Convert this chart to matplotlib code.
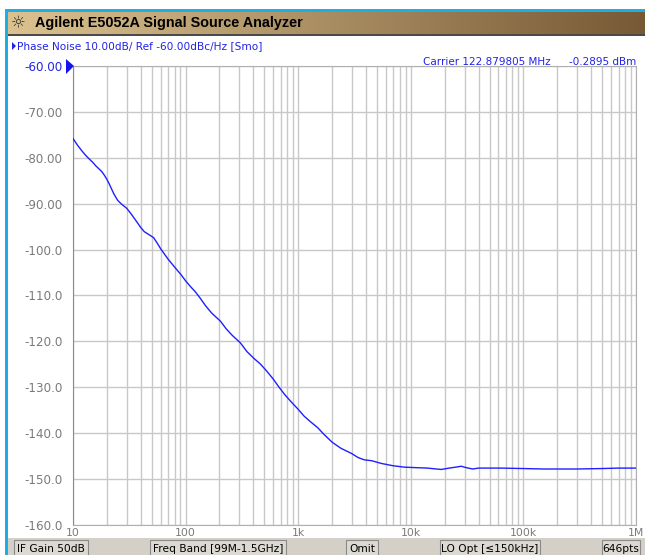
import numpy as np
import matplotlib
matplotlib.use('Agg')
import matplotlib.pyplot as plt
from matplotlib.patches import Rectangle, Polygon

# phase noise trace (offset frequency in Hz, dBc/Hz)
freq_hz = [10, 11, 12, 13, 14, 15, 16, 17, 18, 19, 20, 21, 22, 23, 24, 25, 27,
           30, 33, 36, 40, 43, 47, 52, 56, 60, 65, 70, 78, 85, 90, 100, 110,
           122, 135, 150, 170, 190, 204, 230, 260, 306, 350, 404, 460, 514,
           600, 677, 760, 861, 1000, 1130, 1300, 1490, 1700, 2010, 2400, 2970,
           3400, 3860, 4500, 5500, 7000, 8800, 11000, 14000, 18600, 22000,
           25000, 28000, 31000, 35500, 40000, 63000, 100000, 150000, 200000,
           300000, 500000, 700000, 1000000]
noise_dbc = [-75.8, -77.3, -78.5, -79.5, -80.3, -81.0, -81.8, -82.4, -83.0,
             -83.8, -84.7, -85.7, -86.8, -87.8, -88.6, -89.3, -90.1, -91.0,
             -92.3, -93.6, -95.2, -96.1, -96.7, -97.4, -98.6, -99.8, -101.0,
             -102.1, -103.5, -104.6, -105.3, -106.8, -108.0, -109.2, -110.6,
             -112.2, -113.8, -114.9, -115.6, -117.3, -118.7, -120.3, -122.2,
             -123.7, -124.9, -126.2, -128.2, -130.0, -131.6, -133.1, -134.8,
             -136.3, -137.6, -138.8, -140.3, -142.0, -143.3, -144.4, -145.3,
             -145.8, -146.0, -146.6, -147.1, -147.4, -147.5, -147.6, -147.9,
             -147.6, -147.4, -147.2, -147.5, -147.8, -147.6, -147.6, -147.7,
             -147.8, -147.8, -147.8, -147.7, -147.6, -147.6]

y_ticks = [-60, -70, -80, -90, -100, -110, -120, -130, -140, -150, -160]
y_labels = ['-60.00', '-70.00', '-80.00', '-90.00', '-100.0', '-110.0',
            '-120.0', '-130.0', '-140.0', '-150.0', '-160.0']
x_ticks = [10, 100, 1000, 10000, 100000, 1000000]
x_labels = ['10', '100', '1k', '10k', '100k', '1M']

buttons = [('IF Gain 50dB', 14, 88), ('Freq Band [99M-1.5GHz]', 150, 286),
           ('Omit', 346, 378), ('LO Opt [\u2264150kHz]', 440, 540),
           ('646pts', 602, 640)]

W, H = 645, 555
plt.rcParams['font.family'] = ['DejaVu Sans']
fig = plt.figure(figsize=(W / 100, H / 100), dpi=100, facecolor='white')


def fx(x):
    return x / W


def fy(y):
    return 1 - y / H


def rect(x0, y0, x1, y1, **kw):
    fig.patches.append(Rectangle((fx(x0), fy(y1)), fx(x1 - x0), (y1 - y0) / H,
                                 transform=fig.transFigure, **kw))


# window frame
rect(5, 9, 645, 11.5, facecolor='#1eaee6', edgecolor='none')
rect(5, 9, 7.5, 555, facecolor='#1eaee6', edgecolor='none')

# title bar with gradient
tax = fig.add_axes([fx(8), fy(34), fx(W - 8), 22 / H])
grad = np.linspace(0, 1, 256)
c0 = np.array([0.86, 0.76, 0.56])
c1 = np.array([0.47, 0.35, 0.21])
img = c0[None, :] * (1 - grad[:, None]) + c1[None, :] * grad[:, None]
tax.imshow(img[None, :, :], aspect='auto', extent=[0, 1, 0, 1])
tax.axis('off')
rect(8, 34, 645, 35.5, facecolor='#4a4a4a', edgecolor='none')
fig.text(fx(18), fy(23), '\u263c', fontsize=12, color='#333333',
         ha='center', va='center')
fig.text(fx(35), fy(23), 'Agilent E5052A Signal Source Analyzer',
         fontsize=10.4, fontweight='bold', family='Liberation Sans',
         color='black', ha='left', va='center')

# header texts
blue = '#2323e6'
fig.patches.append(Polygon([[fx(12), fy(42)], [fx(12), fy(50)], [fx(16), fy(46)]],
                           closed=True, transform=fig.transFigure,
                           facecolor=blue, edgecolor='none'))
fig.text(fx(17), fy(46), 'Phase Noise 10.00dB/ Ref -60.00dBc/Hz [Smo]',
         fontsize=7.6, color=blue, ha='left', va='center')
fig.text(fx(423), fy(62), 'Carrier 122.879805 MHz', fontsize=7.5,
         color=blue, ha='left', va='center')
fig.text(fx(636), fy(62), '-0.2895 dBm', fontsize=7.5,
         color=blue, ha='right', va='center')

# plot area
ax = fig.add_axes([fx(73), fy(525), fx(636 - 73), (525 - 66) / H])
ax.semilogx(freq_hz, noise_dbc, color='#1f1fff', lw=1.0, zorder=3)
ax.set_xlim(10, 1e6)
ax.set_ylim(-160, -60)
ax.set_yticks(y_ticks)
ax.set_yticklabels(y_labels)
ax.set_xticks(x_ticks)
ax.set_xticklabels(x_labels)
ax.xaxis.set_minor_locator(matplotlib.ticker.LogLocator(base=10, subs=range(2, 10)))
ax.xaxis.set_minor_formatter(matplotlib.ticker.NullFormatter())
ax.grid(True, which='both', axis='x', color='#c8c8c8', lw=1)
ax.grid(True, which='major', axis='y', color='#c8c8c8', lw=1)
ax.tick_params(which='both', length=0, labelcolor='#7a7a7a')
ax.tick_params(axis='y', pad=7.5, labelsize=8.6)
ax.tick_params(axis='x', pad=2, labelsize=7.8)
ax.get_yticklabels()[0].set_color(blue)
for s in ax.spines.values():
    s.set_color('#b0b0b0')
ax.spines['left'].set_color('#8c8c8c')

# reference marker
fig.patches.append(Polygon([[fx(66), fy(59)], [fx(66), fy(74)], [fx(74), fy(66)]],
                           closed=True, transform=fig.transFigure,
                           facecolor='#1414f0', edgecolor='none', zorder=5))

# status bar
rect(8, 538, 645, 555, facecolor='#d4d0c8', edgecolor='none')
for label, x0, x1 in buttons:
    rect(x0, 540, x1, 556, facecolor='#dcd9d2', edgecolor='#8a8a8a', lw=0.8)
    fig.text(fx((x0 + x1) / 2), fy(548.5), label, fontsize=7.7,
             color='black', ha='center', va='center')

fig.savefig('out.png', dpi=100, facecolor='white')
